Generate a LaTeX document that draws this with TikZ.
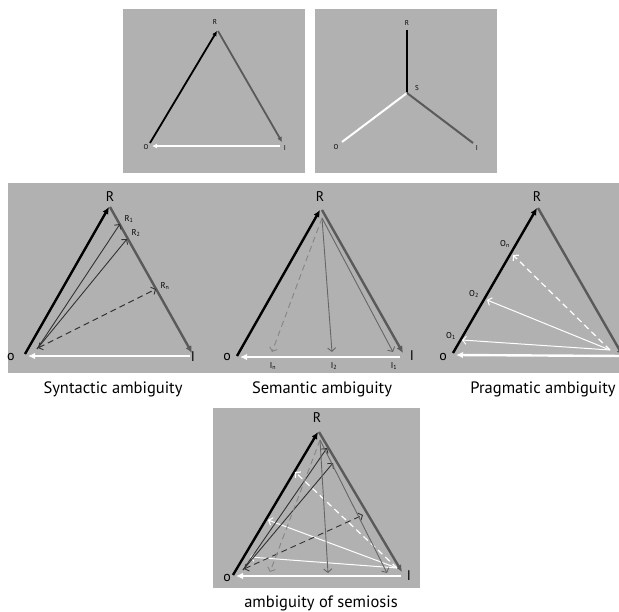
\documentclass[tikz,border=0pt]{standalone}
\usepackage{fontspec}
\setmainfont{PT Sans}
\usetikzlibrary{arrows.meta}
\definecolor{bg}{HTML}{B1B1B1}
\definecolor{edgeg}{HTML}{5A5A5A}
\definecolor{thing}{HTML}{666666}
\definecolor{dashg}{HTML}{858585}
\begin{document}
\begin{tikzpicture}[x=1pt,y=-1pt,
  thk/.style={line width=2.4pt,-{Latex[length=7pt,width=6.5pt]}},
  tthk/.style={line width=1.8pt,-{Latex[length=5pt,width=5pt]}},
  tline/.style={line width=2pt},
  thn/.style={line width=0.9pt,-{Straight Barb[length=3.5pt,width=8pt]}},
  thnd/.style={line width=0.9pt,dash pattern=on 6pt off 4pt,{Straight Barb[length=3.5pt,width=8pt]}-{Straight Barb[length=3.5pt,width=8pt]}},
  thnds/.style={line width=0.9pt,dash pattern=on 6pt off 4pt,-{Straight Barb[length=3.5pt,width=8pt]}},
  wthn/.style={line width=1pt,white,-{Straight Barb[length=3.5pt,width=8pt]}},
  wthnd/.style={line width=1.2pt,white,dash pattern=on 6pt off 4pt,-{Straight Barb[length=3.5pt,width=8pt]}},
  biglbl/.style={font=\fontsize{14}{16}\selectfont,inner sep=0pt},
  smllbl/.style={font=\fontsize{7}{8}\selectfont,inner sep=0pt},
  sublbl/.style={font=\fontsize{8.5}{9}\selectfont,inner sep=0pt},
  captxt/.style={font=\fontsize{16.5}{18}\selectfont,inner sep=0pt}
]
\useasboundingbox (0,0) rectangle (619,612);
\fill[white] (0,0) rectangle (619,612);
% panels
\fill[bg] (123,9) rectangle (305,173);
\fill[bg] (315,9) rectangle (497,173);
\fill[bg] (8,183) rectangle (619,373);
\fill[bg] (213,408) rectangle (420,588);

% ---------- top left ----------
\coordinate (aR) at (217,30);
\coordinate (aO) at (149,145);
\coordinate (aI) at (283,145);
\draw[tthk,black] ([shift={(1,-2)}]aO) -- ([shift={(0,1)}]aR);
\draw[tthk,edgeg] ([shift={(1,1)}]aR) -- ([shift={(-1,-3)}]aI);
\draw[tthk,white] ([shift={(-3,1)}]aI) -- ([shift={(3,1)}]aO);
\node[smllbl] (aRl) at (215,22) {R};
\node[smllbl] (aOl) at (146,147) {O};
\node[smllbl] (aIl) at (285,148) {I};

% ---------- top right ----------
\coordinate (bR) at (407,30);
\coordinate (bS) at (407,93);
\coordinate (bO) at (342,142);
\coordinate (bI) at (473,143);
\draw[tline,black] (bR) -- (bS);
\draw[tline,white] (bS) -- (bO);
\draw[tline,edgeg] (bS) -- (bI);
\node[smllbl] (bRl) at (407,23) {R};
\node[smllbl] (bSl) at (417,88) {S};
\node[smllbl] (bOl) at (336,147) {O};
\node[smllbl] (bIl) at (477,148) {I};

% ---------- syntactic ----------
\coordinate (sO) at (25,354);
\coordinate (sR) at (109,207);
\coordinate (sI) at (192,354);
\coordinate (sS) at (37,349);
\coordinate (sR1) at (120,224);
\coordinate (sR2) at (127,239);
\coordinate (sRn) at (156,289);
\draw[thk,white] ([shift={(-2,2)}]sI) -- ([shift={(3,2)}]sO);
\draw[thk,black] (sO) -- (sR);
\draw[thk,edgeg] ([shift={(1,0)}]sR) -- ([shift={(0,-1)}]sI);
\draw[thn,black!80] (sS) -- (sR1);
\draw[thn,black!80] (sS) -- (sR2);
\draw[thnd,black!80] ([shift={(1,-1)}]sS) -- (sRn);
\node[biglbl] (sRl) at (110,197) {R};
\node[biglbl] (sOl) at (11,357) {o};
\node[biglbl] (sIl) at (193,357) {I};
\node[sublbl] (sR1l) at (129,219) {R\textsubscript{1}};
\node[sublbl] (sR2l) at (136,233) {R\textsubscript{2}};
\node[sublbl] (sRnl) at (165,286) {R\textsubscript{n}};
\node[captxt] (scap) at (113,389) {Syntactic ambiguity};

% ---------- semantic ----------
\coordinate (mO) at (237,356);
\coordinate (mR) at (320,210);
\coordinate (mI) at (403,356);
\coordinate (mS) at (322,218);
\coordinate (mI1) at (393,352);
\coordinate (mI2) at (332,352);
\coordinate (mIn) at (272,352);
\draw[thk,white] ([shift={(-3,1)}]mI) -- ([shift={(3,1)}]mO);
\draw[thk,black] (mO) -- (mR);
\draw[thk,edgeg] ([shift={(2,0)}]mR) -- ([shift={(0,-3)}]mI);
\draw[thn,thing] (mS) -- (mI1);
\draw[thn,thing] (mS) -- (mI2);
\draw[thnds,dashg] (mS) -- (mIn);
\node[biglbl] (mRl) at (320,197) {R};
\node[biglbl] (mOl) at (227,357) {o};
\node[biglbl] (mIl) at (412,356) {I};
\node[sublbl] (mI1l) at (394,366) {I\textsubscript{1}};
\node[sublbl] (mI2l) at (334,366) {I\textsubscript{2}};
\node[sublbl] (mInl) at (273,366) {I\textsubscript{n}};
\node[captxt] (mcap) at (322,389) {Semantic ambiguity};

% ---------- pragmatic ----------
\begin{scope}
\clip (420,183) rectangle (619,373);
\coordinate (pO) at (453,353);
\coordinate (pR) at (537,208);
\coordinate (pI) at (623,356);
\coordinate (pS) at (610,350);
\coordinate (pO1) at (462,340);
\coordinate (pO2) at (487,300);
\coordinate (pOn) at (513,255);
\draw[thk,white] (pI) -- ([shift={(3,2)}]pO);
\draw[thk,black] (pO) -- (pR);
\draw[thk,edgeg] ([shift={(1,0)}]pR) -- (pI);
\draw[wthn] (pS) -- (pO1);
\draw[wthn] (pS) -- (pO2);
\draw[wthnd] (pS) -- (pOn);
\end{scope}
\node[biglbl] (pRl) at (537,197) {R};
\node[biglbl] (pOl) at (443,357) {o};
\node[sublbl] (pO1l) at (451,336) {O\textsubscript{1}};
\node[sublbl] (pO2l) at (474,294) {O\textsubscript{2}};
\node[sublbl] (pOnl) at (505,244) {O\textsubscript{n}};
\node[captxt] (pcap) at (543,389) {Pragmatic ambiguity};

% ---------- bottom ----------
\coordinate (cO) at (233,575);
\coordinate (cR) at (318,432);
\coordinate (cI) at (403,575);
\coordinate (cS) at (243,570);
\coordinate (cR1) at (327,448);
\coordinate (cR2) at (333,463);
\coordinate (cRn) at (363,515);
\coordinate (cT) at (320,440);
\coordinate (cI1) at (387,573);
\coordinate (cI2) at (328,573);
\coordinate (cIn) at (270,572);
\coordinate (cU) at (397,568);
\coordinate (cO1) at (250,557);
\coordinate (cO2) at (268,520);
\coordinate (cOn) at (295,472);
\draw[thk,white] ([shift={(-2,1)}]cI) -- ([shift={(3,1)}]cO);
\draw[thk,black] (cO) -- (cR);
\draw[thk,edgeg] ([shift={(1,0)}]cR) -- ([shift={(-1,-3)}]cI);
\draw[wthn] (cU) -- (cO1);
\draw[wthn] (cU) -- (cO2);
\draw[wthnd] (cU) -- (cOn);
\draw[thn,black!80] (cS) -- (cR1);
\draw[thn,black!80] (cS) -- (cR2);
\draw[thnd,black!80] ([shift={(1,-1)}]cS) -- (cRn);
\draw[thn,thing] (cT) -- (cI1);
\draw[thn,thing] (cT) -- (cI2);
\draw[thnds,dashg] (cT) -- (cIn);
\node[biglbl] (cRl) at (317,418) {R};
\node[biglbl] (cOl) at (227,578) {o};
\node[biglbl] (cIl) at (409,576) {I};
\node[captxt] (ccap) at (321,603) {ambiguity of semiosis};
\end{tikzpicture}
\end{document}
